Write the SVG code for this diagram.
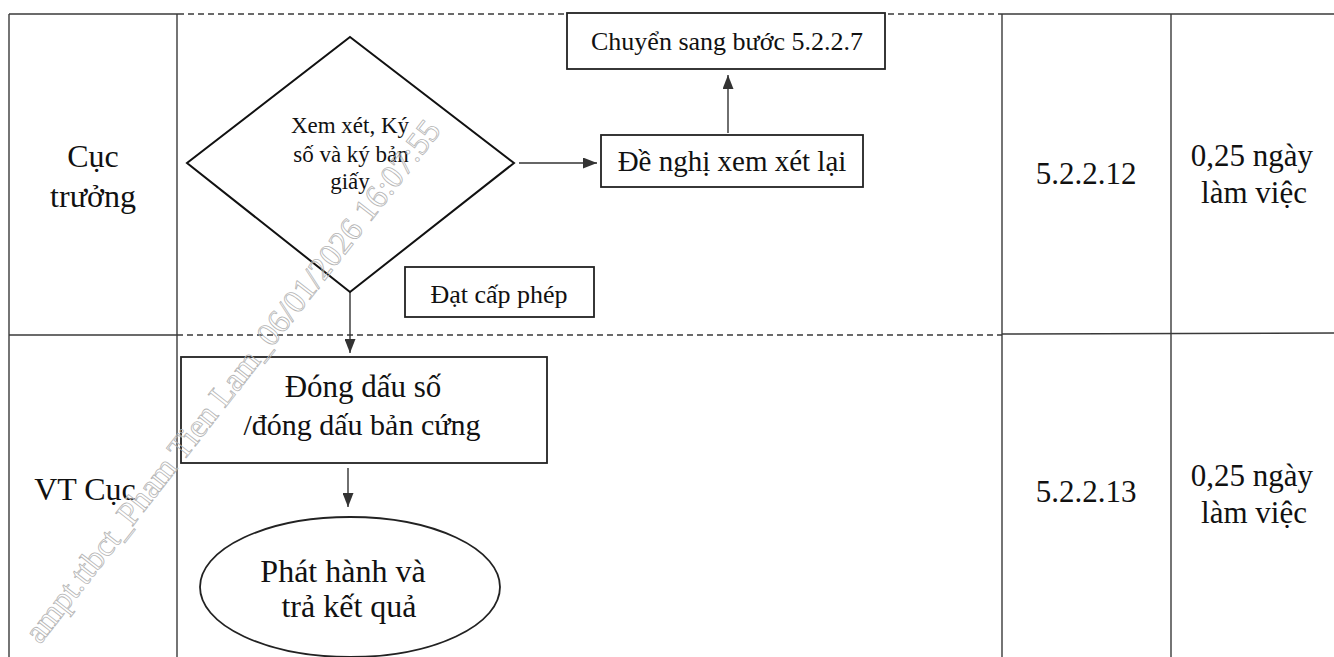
<svg xmlns="http://www.w3.org/2000/svg" width="1334" height="657" viewBox="0 0 1334 657">
<defs>
<style>
.grid{stroke:#3a3a3a;stroke-width:1.4;fill:none}
.dash{stroke:#3a3a3a;stroke-width:1.4;stroke-dasharray:6,4;fill:none}
.box{fill:#fff;stroke:#222;stroke-width:1.8}
.dia{fill:#fff;stroke:#111;stroke-width:2}
.conn{stroke:#333;stroke-width:1.4;fill:none}
.t{font-family:"Liberation Serif","Times New Roman",serif;fill:#111;text-anchor:middle}
.wm{font-family:"Liberation Serif","Times New Roman",serif;fill:none;stroke:#b4b4b4;stroke-width:0.8;font-size:33px}
</style>
<marker id="ahl" viewBox="0 0 14 11" refX="14" refY="5.5" markerWidth="14" markerHeight="11" markerUnits="userSpaceOnUse" orient="auto">
<path d="M0,0 L14,5.5 L0,11 Z" fill="#333"/>
</marker>
</defs>
<rect width="1334" height="657" fill="#fff"/>

<g id="table">
<line class="grid" x1="9" y1="14" x2="178" y2="14"/>
<line class="dash" x1="178" y1="14" x2="1002" y2="14"/>
<line class="grid" x1="1002" y1="14" x2="1334" y2="14"/>
<line class="grid" x1="9" y1="335" x2="177" y2="335"/>
<line class="dash" x1="177" y1="335" x2="1002" y2="335"/>
<line class="grid" x1="1002" y1="334" x2="1334" y2="333"/>
<line class="grid" x1="9" y1="14" x2="9" y2="657"/>
<line class="grid" x1="177" y1="14" x2="177" y2="657"/>
<line class="grid" x1="1002" y1="14" x2="1002" y2="657"/>
<line class="grid" x1="1171" y1="14" x2="1171" y2="657"/>
</g>

<g id="lane-cuc-truong">
<text class="t" font-size="32" x="93" y="167">Cục</text>
<text class="t" font-size="32" x="93" y="207">trưởng</text>
</g>
<g id="lane-vt-cuc">
<text class="t" font-size="32" x="85" y="500">VT Cục</text>
</g>
<g id="step-12">
<text class="t" font-size="31" x="1086" y="184">5.2.2.12</text>
</g>
<g id="time-12">
<text class="t" font-size="31" x="1252" y="166">0,25 ngày</text>
<text class="t" font-size="31" x="1254" y="203">làm việc</text>
</g>
<g id="step-13">
<text class="t" font-size="31" x="1086" y="502">5.2.2.13</text>
</g>
<g id="time-13">
<text class="t" font-size="31" x="1252" y="486">0,25 ngày</text>
<text class="t" font-size="31" x="1254" y="523">làm việc</text>
</g>

<g id="connectors">
<line class="conn" x1="519" y1="163" x2="597" y2="163" marker-end="url(#ahl)"/>
<line class="conn" x1="728" y1="133" x2="728" y2="75" marker-end="url(#ahl)"/>
<line class="conn" x1="350" y1="292" x2="350" y2="353" marker-end="url(#ahl)"/>
<line class="conn" x1="348" y1="468" x2="348" y2="507" marker-end="url(#ahl)"/>
</g>

<g id="decision">
<polygon class="dia" points="350,37 514,163 350,292 187,163"/>
<text class="t" font-size="23" x="350" y="133">Xem xét, Ký</text>
<text class="t" font-size="23" x="351" y="162">số và ký bản</text>
<text class="t" font-size="23" x="350" y="189">giấy</text>
</g>

<g id="chuyen-sang">
<rect class="box" x="567" y="13" width="318" height="56"/>
<text class="t" font-size="26" x="727" y="50">Chuyển sang bước 5.2.2.7</text>
</g>

<g id="de-nghi">
<rect class="box" x="601" y="135" width="262" height="52"/>
<text class="t" font-size="29" x="732" y="171">Đề nghị xem xét lại</text>
</g>

<g id="dat-cap-phep">
<rect class="box" x="405" y="267" width="189" height="50"/>
<text class="t" font-size="26" x="499" y="303">Đạt cấp phép</text>
</g>

<g id="dong-dau">
<rect class="box" x="181" y="357" width="366" height="106"/>
<text class="t" font-size="31" x="363" y="397">Đóng dấu số</text>
<text class="t" font-size="30" x="362" y="435">/đóng dấu bản cứng</text>
</g>

<g id="phat-hanh">
<ellipse class="box" cx="350" cy="587" rx="150" ry="70"/>
<text class="t" font-size="32" x="343" y="582">Phát hành và</text>
<text class="t" font-size="32" x="349" y="617">trả kết quả</text>
</g>

<g id="watermark">
<text class="wm" transform="translate(40,645) rotate(-52)">ampt.ttbct_Pham Tien Lam_06/01/2026 16:07:55</text>
</g>
</svg>
